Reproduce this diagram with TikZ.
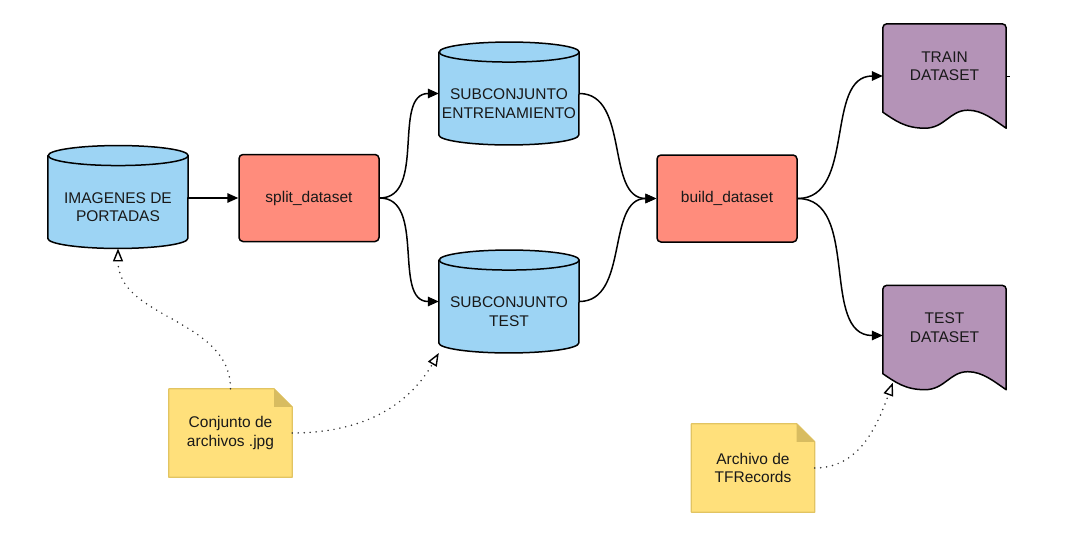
\documentclass[tikz,border=0pt]{standalone}
\usepackage{fontspec}
\setmainfont{Liberation Sans}
\usetikzlibrary{arrows.meta,backgrounds}

\definecolor{cylblue}{HTML}{9DD4F4}
\definecolor{procred}{HTML}{FF8C7C}
\definecolor{docpurple}{HTML}{B493B7}
\definecolor{noteyellow}{HTML}{FFE07B}
\definecolor{noteborder}{HTML}{E2C462}
\definecolor{notefold}{HTML}{D8BC60}

\tikzset{
  lbl/.style={align=center, font=\fontsize{15.5}{18.5}\selectfont, inner sep=0pt, text=black!90},
  cylbody/.style={lbl, minimum width=140pt, minimum height=82.5pt},
  procbox/.style={lbl, draw=black, line width=1.5pt, fill=procred, rounded corners=4pt, minimum width=140pt, minimum height=87pt},
  docbody/.style={lbl, minimum width=123pt, minimum height=84pt},
  notebody/.style={lbl, minimum width=123pt, minimum height=88pt},
  shapeline/.style={draw=black, line width=1.5pt, line join=round},
  flow/.style={draw=black, line width=1.5pt, -{Triangle[length=11pt,width=9.5pt]}},
  ref/.style={draw=black!80, line width=1.7pt, dash pattern=on 0pt off 6pt, line cap=round,
    -{Triangle[open,length=13pt,width=10pt,line width=1.4pt,color=black]}},
}

\newcommand\cylshape[1]{%
  \draw[shapeline, fill=cylblue] ([yshift=10pt]#1.north west) -- ([yshift=10pt]#1.south west)
    arc[start angle=180,end angle=360,x radius=70,y radius=10]
    -- ([yshift=10pt]#1.north east)
    arc[start angle=0,end angle=180,x radius=70,y radius=10] -- cycle;
  \draw[shapeline] ([yshift=10pt]#1.north east) arc[start angle=0,end angle=-180,x radius=70,y radius=10];
}
\newcommand\docshape[1]{%
  \draw[shapeline, fill=docpurple] ([yshift=-4pt]#1.south west)
    -- ([yshift=-4pt]#1.north west) arc[start angle=180,end angle=90,radius=4]
    -- ([xshift=-4pt]#1.north east) arc[start angle=90,end angle=0,radius=4]
    -- ([yshift=-20pt]#1.south east)
    .. controls +(-12,8) and +(15,0) .. ([shift={(85,-2)}]#1.south west)
    .. controls +(-18,0) and +(20,0) .. ([shift={(42,-20)}]#1.south west)
    .. controls +(-20,0) and +(12,-8) .. ([yshift=-4pt]#1.south west) -- cycle;
}
\newcommand\noteshape[1]{%
  \draw[line width=1.2pt, draw=noteborder, fill=noteyellow, line join=round] (#1.north west)
    -- ([xshift=-18pt]#1.north east) -- ([yshift=-18pt]#1.north east)
    -- (#1.south east) -- (#1.south west) -- cycle;
  \fill[notefold] ([xshift=-18pt]#1.north east) -- ([xshift=-18pt,yshift=-18pt]#1.north east)
    -- ([yshift=-18pt]#1.north east) -- cycle;
}

\begin{document}
\begin{tikzpicture}[x=1pt,y=1pt]
\path[use as bounding box] (0,0) rectangle (1072,-541);

\node[cylbody] (img) at (118,-207) {IMAGENES DE\\PORTADAS};
\node[procbox] (sp) at (309,-198) {split\_dataset};
\node[cylbody] (ent) at (509,-103.5) {SUBCONJUNTO\\ENTRENAMIENTO};
\node[cylbody] (tst) at (509,-311.5) {SUBCONJUNTO\\TEST};
\node[procbox] (bd) at (727,-198.5) {build\_dataset};
\node[docbody] (trn) at (944.5,-66) {TRAIN\\DATASET};
\node[docbody] (tds) at (944.5,-327.5) {TEST\\DATASET};
\node[notebody] (n1) at (230.5,-433) {Conjunto de\\archivos .jpg};
\node[notebody] (n2) at (753,-468) {Archivo de\\TFRecords};
\coordinate (stub) at (1010,-76);

\begin{scope}[on background layer]
  \cylshape{img}
  \cylshape{ent}
  \cylshape{tst}
  \docshape{trn}
  \docshape{tds}
  \noteshape{n1}
  \noteshape{n2}
\end{scope}

\draw[flow] (img.east |- sp.west) -- (sp.west);
\draw[flow] (sp.east) to[out=0,in=180] ([yshift=10pt]ent.west);
\draw[flow] (sp.east) to[out=0,in=180] ([yshift=10pt]tst.west);
\draw[flow] ([yshift=10pt]ent.east) to[out=0,in=180] (bd.west);
\draw[flow] ([yshift=10pt]tst.east) to[out=0,in=180] (bd.west);
\draw[flow] (bd.east) to[out=0,in=180] ([yshift=-10pt]trn.west);
\draw[flow] (bd.east) to[out=0,in=180] ([yshift=-8pt]tds.west);
\draw[line width=1pt] ([yshift=-10pt]trn.east) -- (stub);

\draw[ref] (n1.north) to[out=90,in=-90] (img.south);
\draw[ref] (n1.east) to[out=0,in=-120] (tst.south west);
\draw[ref] (n2.east) to[out=0,in=-110] ([shift={(10,-13)}]tds.south west);
\end{tikzpicture}
\end{document}
